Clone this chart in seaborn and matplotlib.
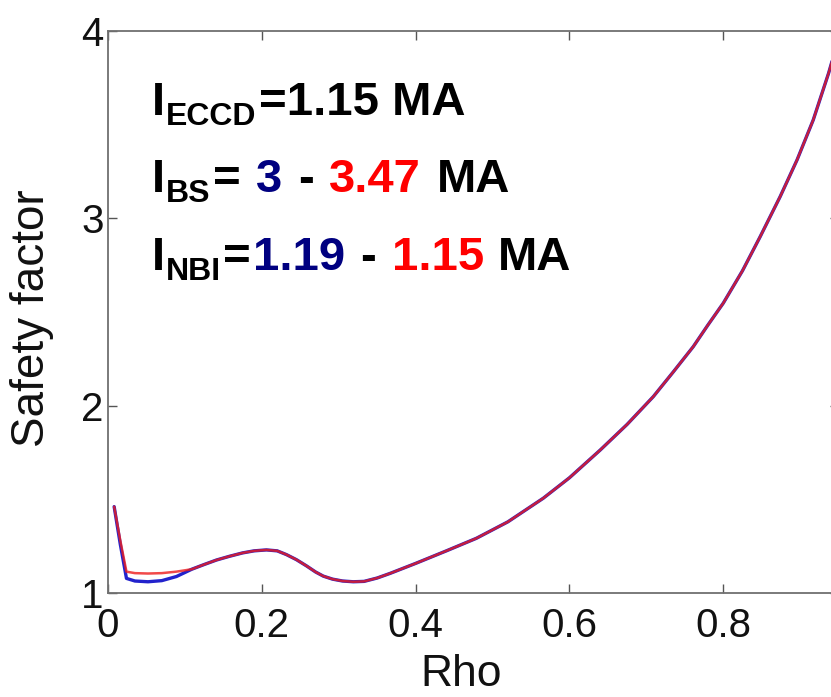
import matplotlib
matplotlib.use("Agg")
import matplotlib.pyplot as plt
import seaborn as sns

# Safety-factor profiles q(rho) for the two current-drive cases
rho = [0.008, 0.016, 0.024, 0.035, 0.052, 0.070, 0.089, 0.109, 0.125, 0.141,
       0.158, 0.175, 0.190, 0.206, 0.220, 0.232, 0.245, 0.258, 0.270, 0.280,
       0.292, 0.305, 0.319, 0.333, 0.350, 0.367, 0.400, 0.440, 0.479, 0.520,
       0.566, 0.600, 0.640, 0.675, 0.709, 0.735, 0.761, 0.780, 0.800, 0.825,
       0.848, 0.874, 0.896, 0.917, 0.937, 0.950]
q_blue = [1.461, 1.260, 1.078, 1.064, 1.060, 1.066, 1.088, 1.127, 1.152, 1.176,
          1.196, 1.214, 1.225, 1.230, 1.225, 1.205, 1.178, 1.145, 1.112, 1.090,
          1.074, 1.064, 1.060, 1.062, 1.080, 1.105, 1.158, 1.225, 1.292, 1.380,
          1.506, 1.615, 1.763, 1.900, 2.048, 2.180, 2.315, 2.430, 2.547, 2.720,
          2.902, 3.116, 3.312, 3.525, 3.775, 3.960]
q_red = [1.461, 1.280, 1.114, 1.106, 1.104, 1.106, 1.114, 1.127, 1.152, 1.176,
         1.196, 1.214, 1.225, 1.230, 1.225, 1.205, 1.178, 1.145, 1.112, 1.090,
         1.074, 1.064, 1.060, 1.062, 1.080, 1.105, 1.158, 1.225, 1.292, 1.380,
         1.506, 1.615, 1.763, 1.900, 2.048, 2.180, 2.315, 2.430, 2.547, 2.720,
         2.902, 3.116, 3.312, 3.525, 3.775, 3.960]

x_ticks = [0, 0.2, 0.4, 0.6, 0.8]
x_tick_labels = ["0", "0.2", "0.4", "0.6", "0.8"]
y_ticks = [1, 2, 3, 4]
y_tick_labels = ["1", "2", "3", "4"]

BLUE_LINE = "#2222cc"
RED_LINE = "#ee1c1c"
NAVY_TXT = "#000080"
RED_TXT = "#ff0000"

# Current annotations: (text, colour, subscript?, gap before in px)
line_eccd = [("I", "black", False, 0), ("ECCD", "black", True, 1),
             ("=1.15 MA", "black", False, 2)]
line_bs = [("I", "black", False, 0), ("BS", "black", True, 1),
           ("=", "black", False, 2), ("3", NAVY_TXT, False, 16),
           ("-", "black", False, 15), ("3.47", RED_TXT, False, 16),
           ("MA", "black", False, 16)]
line_nbi = [("I", "black", False, 0), ("NBI", "black", True, 1),
            ("=", "black", False, 2), ("1.19", NAVY_TXT, False, 2),
            ("-", "black", False, 15), ("1.15", RED_TXT, False, 16),
            ("MA", "black", False, 14)]

sns.set_style("ticks")
plt.rcParams["font.family"] = ["Liberation Sans", "DejaVu Sans"]

W, H = 831, 697
fig = plt.figure(figsize=(W / 100, H / 100), dpi=100)
ax = fig.add_axes([108 / W, 1 - 593 / H, 730.6 / W, 562 / H])

sns.lineplot(x=rho, y=q_blue, color=BLUE_LINE, lw=2.4, ax=ax,
             estimator=None, sort=False)
sns.lineplot(x=rho, y=q_red, color=RED_LINE, lw=1.8, alpha=0.8, ax=ax,
             estimator=None, sort=False)

ax.set_xlim(0, 0.95)
ax.set_ylim(1, 4)
ax.set_xticks(x_ticks)
ax.set_yticks(y_ticks)

tick_font = dict(family="Liberation Sans", size=29, color="#111111")
ax.set_xticklabels(x_tick_labels, fontdict=tick_font)
ax.set_yticklabels(y_tick_labels, fontdict=tick_font)
ax.tick_params(axis="both", direction="in", length=6.5, width=1.0,
               color="#555555", labelcolor="#111111", top=True, right=True)
ax.tick_params(axis="x", pad=10)
ax.tick_params(axis="y", pad=3)

for side in ["left", "bottom", "top", "right"]:
    ax.spines[side].set_visible(True)
    ax.spines[side].set_color("#707070")
    ax.spines[side].set_linewidth(1.3)

ax.set_xlabel("Rho", fontsize=32, color="#111111", va="center", ha="center")
ax.xaxis.set_label_coords((461.5 - 108) / 730.6, (593 - 675) / 562)
ax.set_ylabel("Safety factor", fontsize=33, color="#111111",
              va="center", ha="center")
ax.yaxis.set_label_coords((32 - 108) / 730.6, (593 - 318) / 562)

renderer = fig.canvas.get_renderer()


def draw_line(pieces, x0, baseline):
    x = x0
    for text, colour, sub, gap in pieces:
        x += gap
        size = 23 if sub else 34
        y = baseline + (10 if sub else 0)
        t = fig.text(x / W, 1 - y / H, text, color=colour, fontsize=size,
                     fontweight="bold", ha="left", va="baseline")
        x += t.get_window_extent(renderer).width


draw_line(line_eccd, 152, 115)
draw_line(line_bs, 152, 192)
draw_line(line_nbi, 152, 270)

fig.savefig("out.png", dpi=100, facecolor="white")
